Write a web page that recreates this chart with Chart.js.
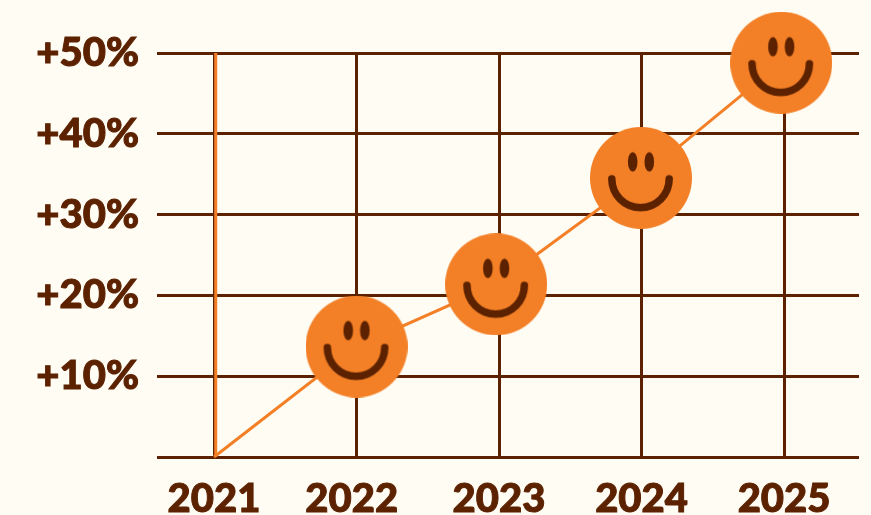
<!DOCTYPE html>
<html>
<head>
<meta charset="utf-8">
<title>Growth by year</title>
<script src="https://cdn.jsdelivr.net/npm/chart.js@4/dist/chart.umd.min.js"></script>
<style>
  html, body { margin: 0; padding: 0; background: #fffcf3; }
  canvas { display: block; }
</style>
</head>
<body>
<canvas id="chart" width="871" height="515"></canvas>
<script>
  const years = [2021, 2022, 2023, 2024, 2025];
  // trailing space: the 2022 label sits a little left of its gridline in the source
  const xLabels = ['2021', '2022 ', '2023', '2024', '2025'];
  // markers sit a touch left of the gridline on 2023 and 2025 in the source
  const markerX = [2021, 2022, 2022.98, 2023.996, 2024.98];
  const growth = [0, 13.67, 21.37, 34.55, 48.8];
  const yTicks = [0, 10, 20, 30, 40, 50];
  const yLabels = ['', '+10%', '+20%', '+30%', '+40%', '+50%'];
  const baseLine = [0, 50];

  const BROWN = '#5c2200';
  const ORANGE = '#f37f26';
  const FONT = { family: 'Lato', size: 40, weight: '900' };

  function smiley(){
    const c = document.createElement('canvas');
    c.width = 102; c.height = 102;
    const g = c.getContext('2d');
    g.fillStyle = ORANGE;
    g.beginPath(); g.arc(51, 51, 51, 0, Math.PI*2); g.fill();
    g.fillStyle = BROWN;
    [-8.3, 8.3].forEach(dx=>{
      g.beginPath(); g.ellipse(51+dx, 35, 4.8, 9.8, 0, 0, Math.PI*2); g.fill();
    });
    g.strokeStyle = BROWN;
    g.lineWidth = 7.5;
    g.lineCap = 'round';
    g.beginPath(); g.arc(50.5, 52, 28.7, 0, Math.PI); g.stroke();
    return c;
  }

  const face = smiley();

  new Chart(document.getElementById('chart'), {
    type: 'line',
    data: {
      datasets: [
        {
          label: 'Base',
          data: baseLine.map(v=>({ x: years[0] + 0.012, y: v })),
          borderColor: ORANGE, borderWidth: 3, pointRadius: 0, clip: false
        },
        {
          label: 'Growth',
          data: markerX.map((x,i)=>({ x: x, y: growth[i] })),
          borderColor: ORANGE, borderWidth: 3, tension: 0, clip: false,
          pointStyle: face,
          pointRadius: ctx=>ctx.dataIndex === 0 ? 0 : 51
        }
      ]
    },
    options: {
      responsive: false,
      animation: false,
      devicePixelRatio: 1,
      // the big markers would otherwise push the plot area in
      layout: { autoPadding: false, padding: { top: 53, right: 12, bottom: 0, left: 0 } },
      plugins: { legend: { display: false }, tooltip: { enabled: false } },
      scales: {
        x: {
          type: 'linear',
          min: 2020.6,
          max: 2025.526,
          afterBuildTicks: s=>{ s.ticks = years.map(v=>({ value: v })); },
          afterFit: s=>{ s.height = 58; s.paddingLeft = 0; s.paddingRight = 0; },
          grid: { color: BROWN, lineWidth: 3, drawTicks: false },
          border: { display: false },
          ticks: {
            color: BROWN, padding: 18, maxRotation: 0, autoSkip: false,
            textStrokeColor: BROWN, textStrokeWidth: 1,
            font: FONT,
            callback: v=>xLabels[years.indexOf(v)]
          }
        },
        y: {
          min: 0,
          max: 50,
          afterBuildTicks: s=>{ s.ticks = yTicks.map(v=>({ value: v })); },
          afterFit: s=>{ s.width = 157; s.paddingTop = 0; s.paddingBottom = 0; },
          grid: { color: BROWN, lineWidth: 3, drawTicks: false },
          border: { display: false },
          ticks: {
            color: BROWN, padding: 18, autoSkip: false,
            textStrokeColor: BROWN, textStrokeWidth: 1,
            font: FONT,
            callback: v=>yLabels[yTicks.indexOf(v)]
          }
        }
      }
    }
  });
</script>
</body>
</html>
